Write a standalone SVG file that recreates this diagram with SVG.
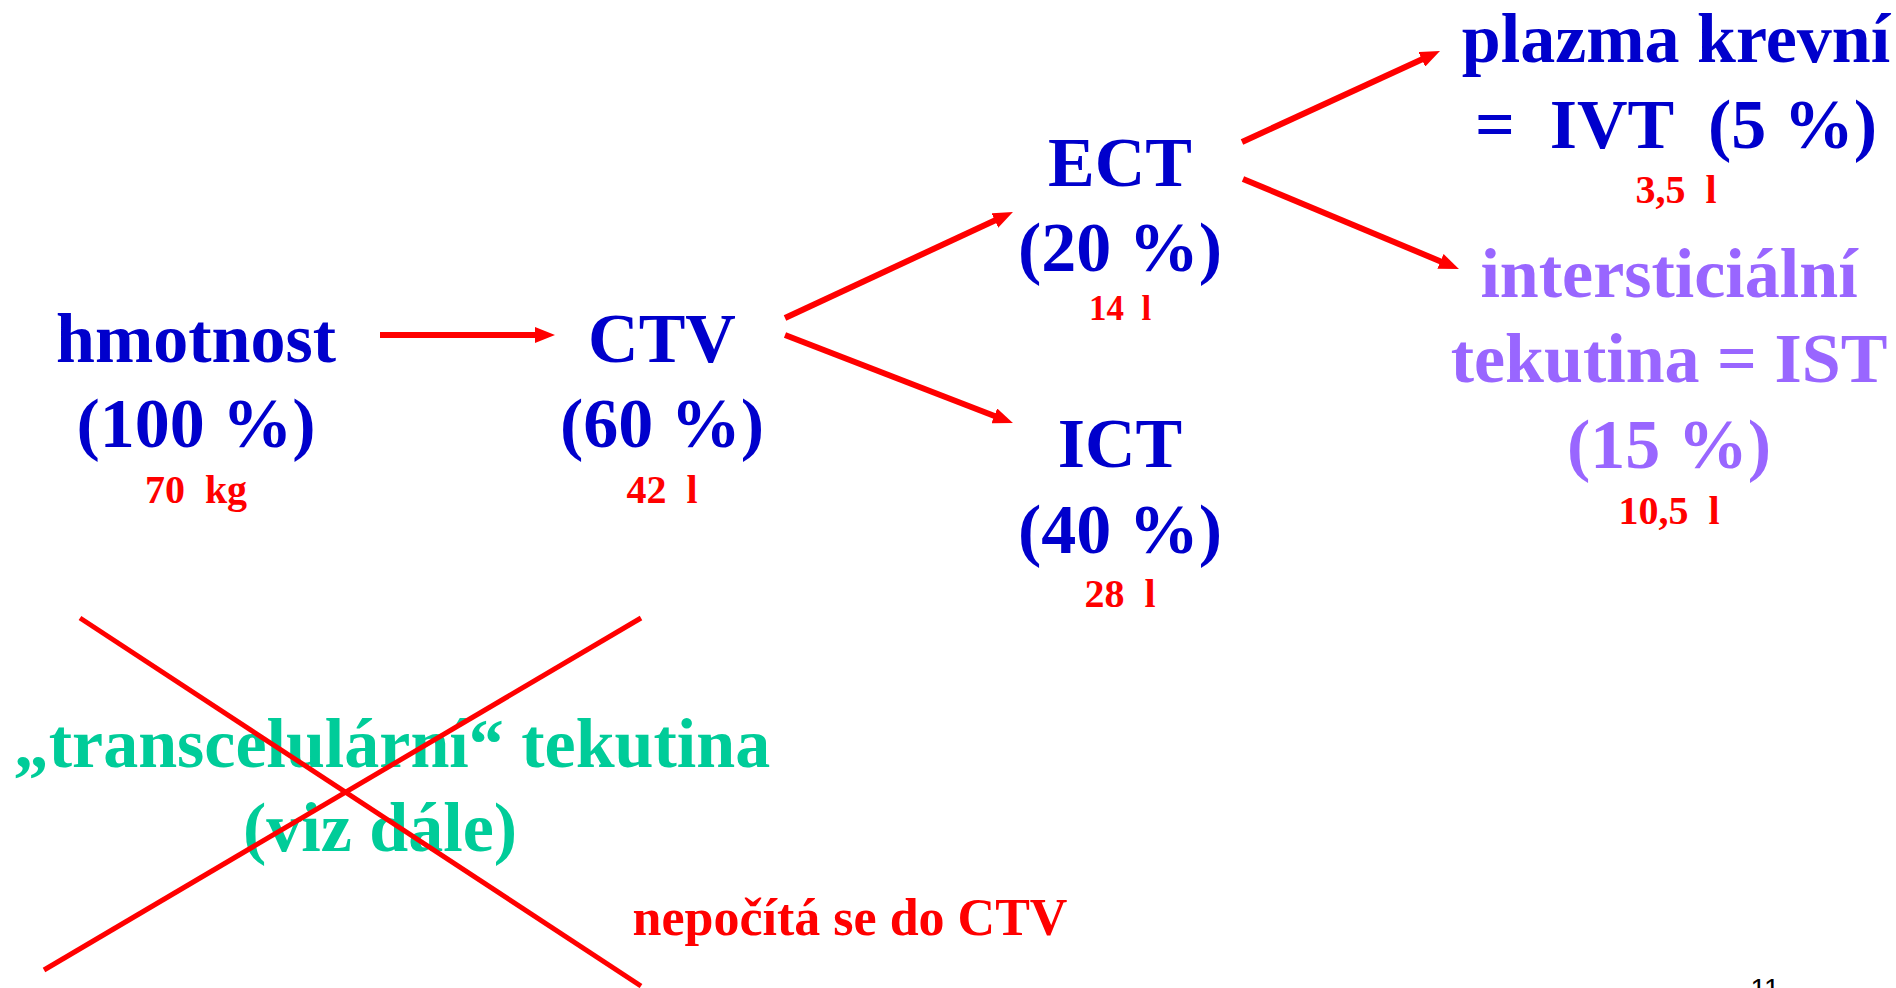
<svg xmlns="http://www.w3.org/2000/svg" width="1896" height="988" viewBox="0 0 1896 988">
<style>
text{font-family:"Liberation Serif","Times New Roman",serif;font-weight:bold;text-anchor:middle;white-space:pre}
.big{font-size:70px}
.blue{fill:#0000CC}
.red{fill:#FF0000}
.purple{fill:#9966FF}
.green{fill:#00CC99}
.small{font-size:40px}
.arrow{stroke:#FF0000;stroke-width:6;fill:none;marker-end:url(#head)}
.cross{stroke:#FF0000;stroke-width:5;fill:none}
</style>
<defs>
<marker id="head" markerUnits="userSpaceOnUse" markerWidth="20" markerHeight="16" viewBox="0 0 20 16" refX="10" refY="8" orient="auto">
<path d="M0,0 L20,8 L0,16 z" fill="#FF0000"/>
</marker>
</defs>
<g id="connectors">
<line class="arrow" x1="380" y1="335" x2="545" y2="335"/>
<line class="arrow" x1="785" y1="318" x2="1003.9" y2="216.2"/>
<line class="arrow" x1="785" y1="335" x2="1003.6" y2="419.5"/>
<line class="arrow" x1="1242" y1="142" x2="1430.9" y2="55.2"/>
<line class="arrow" x1="1243" y1="179" x2="1449.7" y2="265.2"/>
</g>
<g id="hmotnost">
<text class="big blue" x="196" y="362">hmotnost</text>
<text class="big blue" x="196" y="447">(100 %)</text>
<text class="small red" x="196" y="503" xml:space="preserve">70  kg</text>
</g>
<g id="ctv">
<text class="big blue" x="662" y="362">CTV</text>
<text class="big blue" x="662" y="447">(60 %)</text>
<text class="small red" x="662" y="503" xml:space="preserve">42  l</text>
</g>
<g id="ect">
<text class="big blue" x="1120" y="186">ECT</text>
<text class="big blue" x="1120" y="271">(20 %)</text>
<text class="red" style="font-size:35px" x="1120" y="320" xml:space="preserve">14  l</text>
</g>
<g id="ict">
<text class="big blue" x="1120" y="467">ICT</text>
<text class="big blue" x="1120" y="553">(40 %)</text>
<text class="small red" x="1120" y="607" xml:space="preserve">28  l</text>
</g>
<g id="ivt">
<text class="big blue" x="1676" y="62">plazma krevní</text>
<text class="big blue" x="1676" y="148" xml:space="preserve">=  IVT  (5 %)</text>
<text class="small red" x="1676" y="203" xml:space="preserve">3,5  l</text>
</g>
<g id="ist">
<text class="big purple" x="1669" y="297">intersticiální</text>
<text class="big purple" x="1669" y="382">tekutina = IST</text>
<text class="big purple" x="1669" y="468">(15 %)</text>
<text class="small red" x="1669" y="524" xml:space="preserve">10,5  l</text>
</g>
<g id="transcelularni">
<text class="big green" x="392" y="767">„transcelulární“ tekutina</text>
<text class="big green" x="380" y="851">(viz dále)</text>
<line class="cross" x1="80" y1="618" x2="641" y2="986"/>
<line class="cross" x1="641" y1="618" x2="44" y2="970"/>
<text class="red" style="font-size:52px" x="850" y="935">nepočítá se do CTV</text>
</g>
<g id="page-number">
<text style="font-family:'Liberation Sans',Arial,sans-serif;font-size:28px;font-weight:normal;fill:#000" x="1765" y="998">11</text>
</g>
</svg>
